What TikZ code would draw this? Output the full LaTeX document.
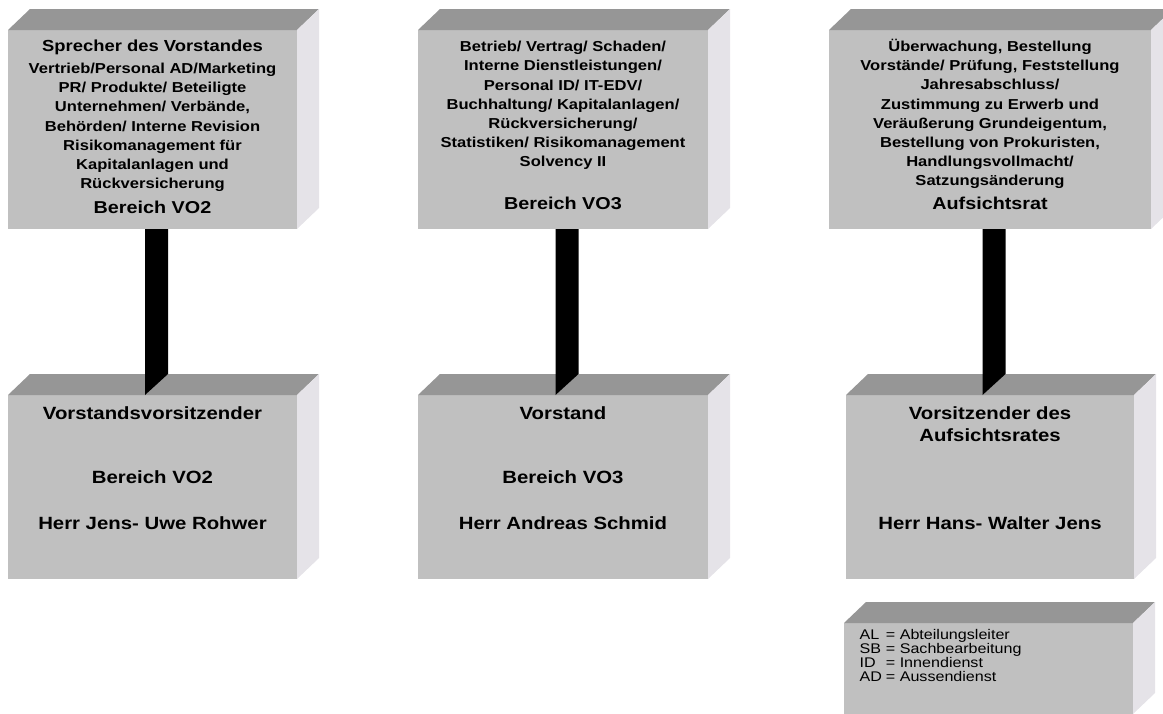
\documentclass[tikz,border=0pt]{standalone}
\usepackage{fontspec}
\setmainfont{Liberation Sans}[FakeStretch=1.15]
\usetikzlibrary{calc}
\definecolor{frontgray}{RGB}{192,192,192}
\definecolor{topgray}{RGB}{150,150,150}
\definecolor{sidegray}{RGB}{229,227,232}
\tikzset{
  front/.style 2 args={fill=frontgray, inner sep=0pt, outer sep=0pt,
    minimum width=#1pt, minimum height=#2pt},
  headtext/.style={font=\bfseries\fontsize{16}{19}\selectfont},
  bodytext/.style={font=\bfseries\fontsize{14.4}{19.2}\selectfont, align=center},
  areatext/.style={font=\bfseries\fontsize{17.2}{22}\selectfont},
  nametext/.style={font=\bfseries\fontsize{17.7}{22}\selectfont, align=center},
  legendtext/.style={font=\fontsize{14}{12.7}\selectfont, align=left, anchor=west},
  bar/.style={fill=black}
}
\begin{document}
\begin{tikzpicture}[x=1pt, y=-1pt]
\useasboundingbox (0,0) rectangle (1163,713);
\clip (0,0) rectangle (1163,713);
% front faces
\node[front={289}{199}] (sprecher) at (152.5,129.5) {};
\node[front={290}{199}] (betrieb) at (563,129.5) {};
\node[front={322}{199}] (aufsicht) at (990,129.5) {};
\node[front={289}{184}] (vorsitz) at (152.5,487) {};
\node[front={290}{184}] (vorstand) at (563,487) {};
\node[front={288}{184}] (arvorsitz) at (990,487) {};
\node[front={289}{91}] (legende) at (988.5,668.5) {};
% top and side faces
\foreach \b in {sprecher,betrieb,aufsicht,vorsitz,vorstand,arvorsitz,legende} {
  \fill[topgray] (\b.north west) -- ++(22,-21) -- ($(\b.north east)+(22,-21)$)
    -- (\b.north east) -- cycle;
  \fill[sidegray] (\b.north east) -- ++(22,-21) -- ($(\b.south east)+(22,-21)$)
    -- (\b.south east) -- cycle;
}
% bars between the boxes
\foreach \t/\u in {sprecher/vorsitz, betrieb/vorstand, aufsicht/arvorsitz} {
  \fill[bar] ($(\t.south)+(-7.5,0)$) -- ($(\t.south)+(15.5,0)$)
    -- ($(\u.north)+(15.5,-21)$) -- ($(\u.north)+(-7.5,0)$) -- cycle;
}
% texts, top row
\node[headtext] (sprecherkopf) at (152.5,47) {Sprecher des Vorstandes};
\node[bodytext] (sprechertext) at (152.5,127.5) {Vertrieb/Personal AD/Marketing\\
  PR/ Produkte/ Beteiligte\\ Unternehmen/ Verbände,\\ Behörden/ Interne Revision\\
  Risikomanagement für\\ Kapitalanlagen und\\ Rückversicherung};
\node[areatext] (sprecherbereich) at (152.5,207) {Bereich VO2};
\node[bodytext] (betriebtext) at (563,105.5) {Betrieb/ Vertrag/ Schaden/\\
  Interne Dienstleistungen/\\ Personal ID/ IT-EDV/\\ Buchhaltung/ Kapitalanlagen/\\
  Rückversicherung/\\ Statistiken/ Risikomanagement\\ Solvency II};
\node[areatext] (betriebbereich) at (563,203) {Bereich VO3};
\node[bodytext] (aufsichttext) at (990,114) {Überwachung, Bestellung\\
  Vorstände/ Prüfung, Feststellung\\ Jahresabschluss/\\ Zustimmung zu Erwerb und\\
  Veräußerung Grundeigentum,\\ Bestellung von Prokuristen,\\ Handlungsvollmacht/\\
  Satzungsänderung};
\node[areatext] (aufsichtrat) at (990,203) {Aufsichtsrat};
% texts, bottom row
\node[nametext] (vorsitzamt) at (152.5,413) {Vorstandsvorsitzender};
\node[nametext] (vorsitzbereich) at (152.5,477) {Bereich VO2};
\node[nametext] (vorsitzname) at (152.5,523) {Herr Jens- Uwe Rohwer};
\node[nametext] (vorstandamt) at (563,413) {Vorstand};
\node[nametext] (vorstandbereich) at (563,477) {Bereich VO3};
\node[nametext] (vorstandname) at (563,523) {Herr Andreas Schmid};
\node[nametext] (arvorsitzamt) at (990,424) {Vorsitzender des\\ Aufsichtsrates};
\node[nametext] (arvorsitzname) at (990,523) {Herr Hans- Walter Jens};
% legend
\node[legendtext] (legendetext) at (856,657) {%
  \begin{tabular}{@{}l@{\hspace{4pt}}l@{}}
  AL & = Abteilungsleiter\\ SB & = Sachbearbeitung\\
  ID & = Innendienst\\ AD & = Aussendienst
  \end{tabular}};
\end{tikzpicture}
\end{document}
